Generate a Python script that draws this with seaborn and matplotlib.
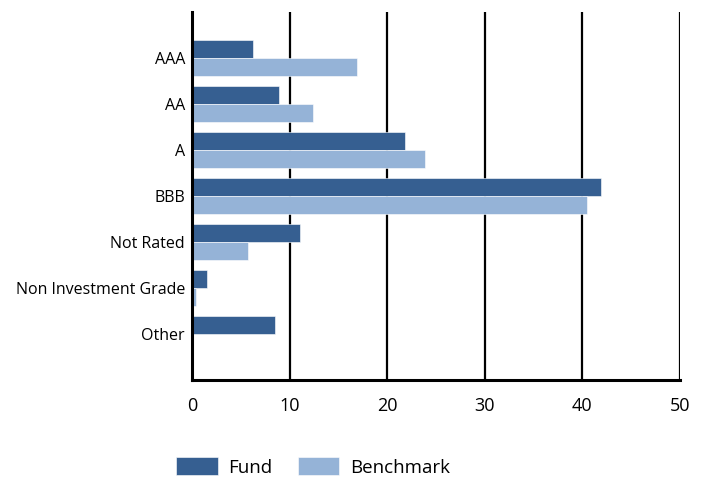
import pandas as pd
import matplotlib
matplotlib.use("Agg")
import matplotlib.pyplot as plt
import seaborn as sns

# Chart data
categories = ['AAA', 'AA', 'A', 'BBB', 'Not Rated', 'Non Investment Grade', 'Other']
fund_values = [6.2, 8.9, 21.8, 41.9, 11.1, 1.5, 8.5]
benchmark_values = [16.9, 12.4, 23.9, 40.5, 5.7, 0.4, 0.1]
x_ticks = [0, 10, 20, 30, 40, 50]

COLORS = {'Fund': '#365F91', 'Benchmark': '#95B3D7'}

df = pd.DataFrame({
    'category': categories * 2,
    'value': fund_values + benchmark_values,
    'series': ['Fund'] * len(categories) + ['Benchmark'] * len(categories),
})

sns.set_style('white')
plt.rcParams['font.family'] = ['Open Sans', 'DejaVu Sans']
plt.rcParams['text.color'] = 'black'
plt.rcParams['xtick.color'] = 'black'
plt.rcParams['ytick.color'] = 'black'

fig = plt.figure(figsize=(7.09, 4.78), dpi=100)
ax = fig.add_axes([0.2708, 0.205, 0.959 - 0.2708, 0.975 - 0.205])

sns.barplot(
    data=df, y='category', x='value', hue='series', orient='h',
    order=categories, hue_order=['Fund', 'Benchmark'],
    palette=COLORS, saturation=1, width=0.8, edgecolor='white', linewidth=0.4,
    legend=True, ax=ax,
)

ax.set_xlim(0, 50)
ax.set_ylim(len(categories), -1)
ax.set_xticks(x_ticks)
ax.set_xticklabels([str(t) for t in x_ticks], fontsize=13)
ax.tick_params(axis='y', labelsize=11.5, length=0, pad=5, labelcolor='black')
ax.tick_params(axis='x', length=0, pad=12, labelcolor='black')
ax.set_xlabel('')
ax.set_ylabel('')

ax.xaxis.grid(True, color='black', linewidth=1.6)
ax.set_axisbelow(True)
for side in ['top', 'right']:
    ax.spines[side].set_visible(False)
for side in ['left', 'bottom']:
    ax.spines[side].set_color('black')
    ax.spines[side].set_linewidth(2.2)

handles, labels = ax.get_legend_handles_labels()
ax.get_legend().remove()
fig.legend(
    handles, labels, loc='center', bbox_to_anchor=(313 / 709, 1 - 467 / 478),
    ncol=2, frameon=False, fontsize=13.5, handlelength=2.2, handleheight=1.1,
    handletextpad=0.55, columnspacing=1.4,
)

fig.savefig('out.png', dpi=100)
plt.close(fig)
